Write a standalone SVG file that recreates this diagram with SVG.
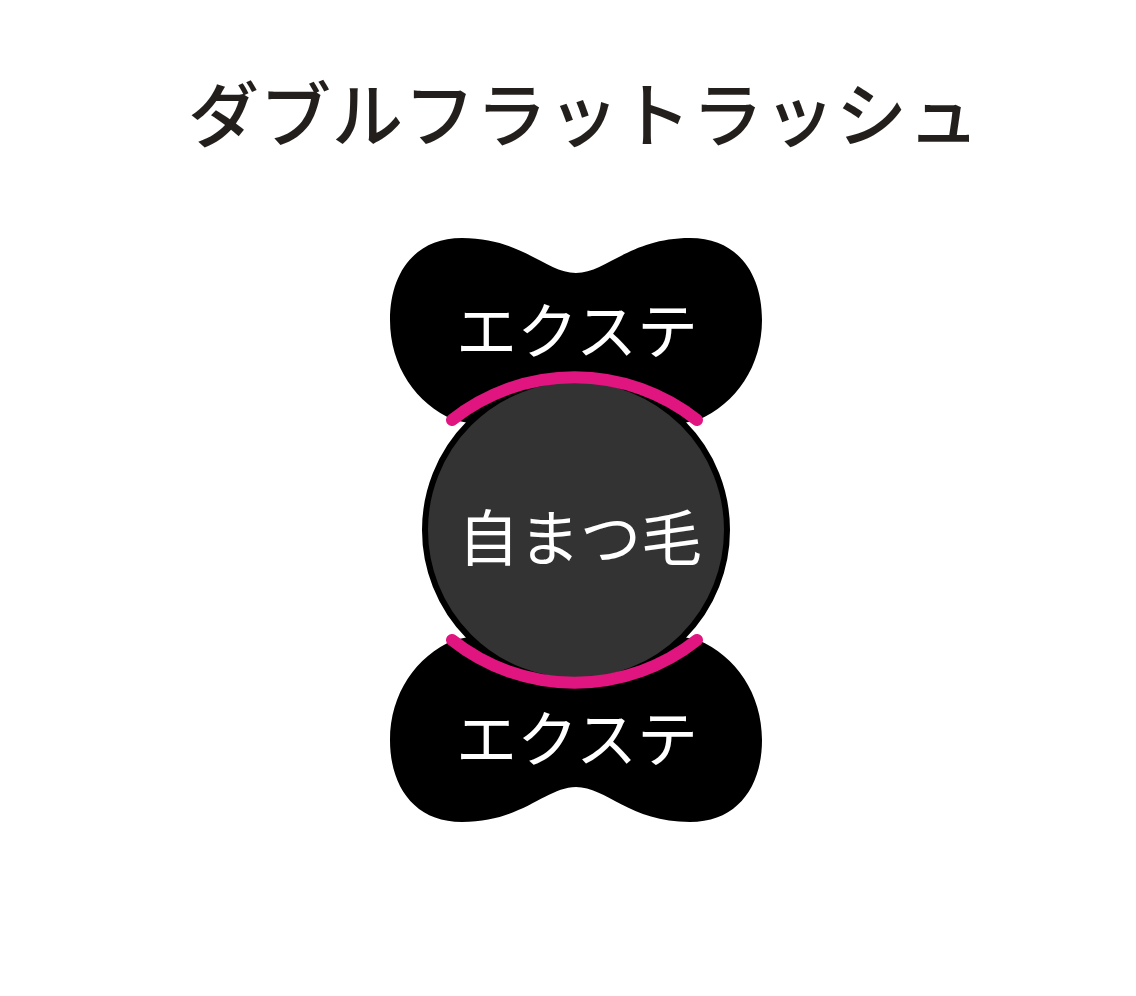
<svg xmlns="http://www.w3.org/2000/svg" width="1136" height="996" viewBox="0 0 1136 996">
<style>
.title{font-family:"Noto Sans CJK JP","Noto Sans CJK SC",sans-serif;font-size:71px;font-weight:500;fill:#231f1c;letter-spacing:1px}
.lbl{font-family:"Noto Sans CJK JP","Noto Sans CJK SC",sans-serif;fill:#ffffff;font-weight:400}
.lobe{fill:#000000}
.arc{fill:none;stroke:#e0157f;stroke-width:12;stroke-linecap:round}
</style>
<rect width="1136" height="996" fill="#ffffff"/>
<text class="title" x="584" y="110" text-anchor="middle" dominant-baseline="central">ダブルフラットラッシュ</text>
<g id="ext-top">
<path class="lobe" d="M576 273 C546 273 522 238 462 238 C414 238 390 274 390 320 C390 366 416 404 454 420 L576 445 L698 420 C736 404 762 366 762 320 C762 274 738 238 690 238 C630 238 606 273 576 273 Z"/>
<text class="lbl" x="577" y="327" font-size="61" text-anchor="middle" dominant-baseline="central">エクステ</text>
</g>
<g id="ext-bottom">
<path class="lobe" d="M576 787 C546 787 522 822 462 822 C414 822 390 786 390 740 C390 694 416 656 454 640 L576 615 L698 640 C736 656 762 694 762 740 C762 786 738 822 690 822 C630 822 606 787 576 787 Z"/>
<text class="lbl" x="577" y="735" font-size="61" text-anchor="middle" dominant-baseline="central">エクステ</text>
</g>
<g id="natural">
<circle cx="576" cy="530" r="151" fill="#333333" stroke="#000000" stroke-width="6"/>
<text class="lbl" x="580" y="534" font-size="61" text-anchor="middle" dominant-baseline="central">自まつ毛</text>
</g>
<g id="connectors">
<path class="arc" d="M452 420 A197 197 0 0 1 697 420"/>
<path class="arc" d="M452 640 A197 197 0 0 0 697 640"/>
</g>
</svg>
